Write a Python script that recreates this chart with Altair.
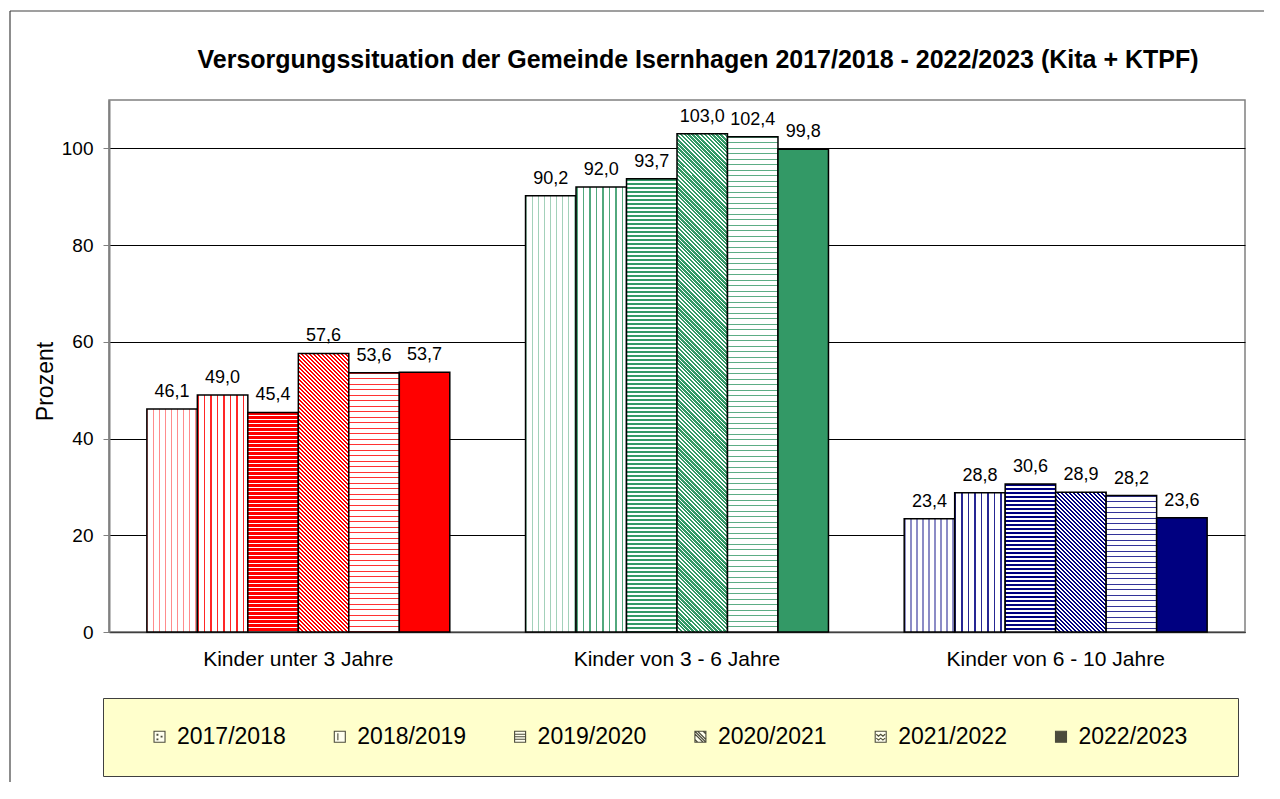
import math
import altair as alt

# ---------------- data ----------------
groups = ["Kinder unter 3 Jahre", "Kinder von 3 - 6 Jahre", "Kinder von 6 - 10 Jahre"]
years = ["2017/2018", "2018/2019", "2019/2020", "2020/2021", "2021/2022", "2022/2023"]
vals_u3 = [46.1, 49.0, 45.4, 57.6, 53.6, 53.7]
vals_3_6 = [90.2, 92.0, 93.7, 103.0, 102.4, 99.8]
vals_6_10 = [23.4, 28.8, 30.6, 28.9, 28.2, 23.6]
series = [vals_u3, vals_3_6, vals_6_10]
group_colors = ["#FF0000", "#339966", "#000080"]
y_ticks = [0, 20, 40, 60, 80, 100]
chart_title = "Versorgungssituation der Gemeinde Isernhagen 2017/2018 - 2022/2023 (Kita + KTPF)"

# ---------------- layout / style ----------------
W, H = 1136, 532
YMAX = 110
PAD_IN, PAD_OUT = 0.2, 0.1
FONT = "Liberation Sans"
BG = "#FFFFCC"
step = W / (len(groups) - PAD_IN + 2 * PAD_OUT)
bar_w = step * (1 - PAD_IN) / len(years)


def tint(hexcol, f):
    r, g, b = (int(hexcol[i:i + 2], 16) for i in (1, 3, 5))
    r, g, b = (round(255 - (255 - c) * f) for c in (r, g, b))
    return "#%02X%02X%02X" % (r, g, b)


def stripe_stops(length, period, on, c_on, c_off="#FFFFFF"):
    stops = []
    n = math.ceil(length / period)
    for k in range(n):
        a = round(k * period / length, 6)
        b = round(min((k * period + on) / length, 1), 6)
        c = round(min((k + 1) * period / length, 1), 6)
        stops += [{"offset": a, "color": c_on}, {"offset": b, "color": c_on},
                  {"offset": b, "color": c_off}, {"offset": c, "color": c_off}]
    return stops


def pattern(idx, color, value):
    w = bar_w
    h = value / YMAX * H
    if idx == 0:  # dotted columns
        return {"gradient": "linear", "x1": 0, "y1": 0, "x2": 1, "y2": 0,
                "stops": stripe_stops(w, 6.0, 1.4, tint(color, 0.45))}
    if idx == 1:  # dashed vertical lines
        return {"gradient": "linear", "x1": 0, "y1": 0, "x2": 1, "y2": 0,
                "stops": stripe_stops(w, 6.5, 1.6, tint(color, 0.85))}
    if idx == 2:  # horizontal stripes
        return {"gradient": "linear", "x1": 0, "y1": 0, "x2": 0, "y2": 1,
                "stops": stripe_stops(h, 4.0, 2.3, color)}
    if idx == 3:  # diagonal stripes "\"
        t = (w + h) / (w * w + h * h)
        L = (w + h) / math.sqrt(2)
        return {"gradient": "linear", "x1": 0, "y1": 1, "x2": round(t * w, 7),
                "y2": round(1 - t * h, 7),
                "stops": stripe_stops(L, 4 / math.sqrt(2), 1.5, color)}
    if idx == 4:  # wavy thin lines
        return {"gradient": "linear", "x1": 0, "y1": 0, "x2": 0, "y2": 1,
                "stops": stripe_stops(h, 5.5, 1.2, tint(color, 0.8))}
    return color


records = []
for gi, g in enumerate(groups):
    for yi, yr in enumerate(years):
        v = series[gi][yi]
        records.append({"group": g, "year": yr, "value": v,
                        "grad": pattern(yi, group_colors[gi], v)})

data = alt.Data(values=records)

x_enc = alt.X("group:N", sort=groups, title=None,
              scale=alt.Scale(paddingInner=PAD_IN, paddingOuter=PAD_OUT),
              axis=alt.Axis(labelFontSize=21, labelColor="#000000", labelPadding=16,
                            labelLimit=0, ticks=False, tickSize=0,
                            domainColor="#404040", domainWidth=1.5,
                            labelAngle=0, grid=False))
xo_enc = alt.XOffset("year:N", sort=years, scale=alt.Scale(paddingInner=0, paddingOuter=0))
y_enc = alt.Y("value:Q", scale=alt.Scale(domain=[0, YMAX], nice=False),
              axis=alt.Axis(values=y_ticks, title="Prozent", titleFontSize=23,
                            titleFontWeight="normal", titleColor="#000000",
                            titleX=-63.5, titleY=281, titleAlign="center", titleBaseline="middle",
                            titleAngle=270,
                            labelFontSize=19, labelColor="#000000", labelPadding=10,
                            tickSize=6, tickColor="#808080", tickWidth=1,
                            domainColor="#808080", domainWidth=2,
                            grid=True, gridColor="#000000", gridWidth=1))

bars = alt.Chart(data).mark_bar(stroke="#000000", strokeWidth=1.5).encode(
    x=x_enc, xOffset=xo_enc, y=y_enc,
    fill=alt.Fill("grad:N", scale=None),
)

labels = alt.Chart(data).transform_calculate(
    label="replace(format(datum.value, '.1f'), '.', ',')"
).mark_text(fontSize=18, dy=-12, baseline="alphabetic", color="#000000").encode(
    x=alt.X("group:N", sort=groups), xOffset=alt.XOffset("year:N", sort=years),
    y="value:Q", text="label:N",
)

sq = "M-1,-1H1V1H-1Z"
legend_shapes = [
    sq + "M-0.45,-0.45h0.15v0.15h-0.15Z M0.3,-0.1h0.15v0.15h-0.15Z M-0.45,0.4h0.15v0.15h-0.15Z",
    sq + "M-0.35,-0.65V0.65",
    sq + "M-1,-0.45H1M-1,0H1M-1,0.45H1",
    sq + "M-1,-0.5L0.5,1M-0.5,-1L1,0.5M-1,0.5L-0.5,1M0.5,-1L1,-0.5M-1,-1L1,1",
    sq + "M-0.8,-0.45L-0.4,-0.1L0,-0.45L0.4,-0.1L0.8,-0.45M-0.8,0.25L-0.4,0.6L0,0.25L0.4,0.6L0.8,0.25",
    sq,
]
legend_fills = ["#FFFFFF", "#FFFFFF", "#FFFFFF", "#FFFFFF", "#FFFFFF", "#000000"]

leg = alt.Legend(title="\u00a0", titleOrient="right", titlePadding=24, titleFontSize=8,
                 orient="none", legendX=-6, legendY=598, direction="horizontal",
                 columns=6, fillColor=BG, strokeColor="#404040", padding=27,
                 symbolSize=121, symbolStrokeColor="#000000", symbolStrokeWidth=1.1,
                 symbolOffset=18, labelFontSize=23, labelColor="#000000", labelOffset=6,
                 columnPadding=24.3)

legend_layer = alt.Chart(data).transform_filter("false").mark_point(filled=True).encode(
    color=alt.Color("year:N", scale=alt.Scale(domain=years, range=legend_fills), legend=leg),
    shape=alt.Shape("year:N", scale=alt.Scale(domain=years, range=legend_shapes), legend=leg),
)

title_layer = alt.Chart(alt.Data(values=[{"t": chart_title}])).mark_text(
    fontSize=25, fontWeight="bold", align="center", baseline="alphabetic", color="#000000"
).encode(text="t:N", x=alt.value(589), y=alt.value(-32))

frame = alt.Chart(alt.Data(values=[{"a": 1}])).mark_rule(color="#404040", strokeWidth=1.2)
frame_top = frame.encode(x=alt.value(-99), x2=alt.value(1200), y=alt.value(-89))
frame_left = frame.encode(x=alt.value(-99), y=alt.value(-89), y2=alt.value(700))

chart = alt.layer(bars, labels, legend_layer, title_layer, frame_top, frame_left).properties(
    width=W, height=H,
    autosize=alt.AutoSizeParams(type="none"),
    padding={"left": 101, "top": 92, "right": 19, "bottom": 150},
    background="#FFFFFF",
).configure(font=FONT).configure_view(fill=BG, stroke="#808080", strokeWidth=1.5)

chart.save("out.html", embed_options={"renderer": "svg", "actions": False})
